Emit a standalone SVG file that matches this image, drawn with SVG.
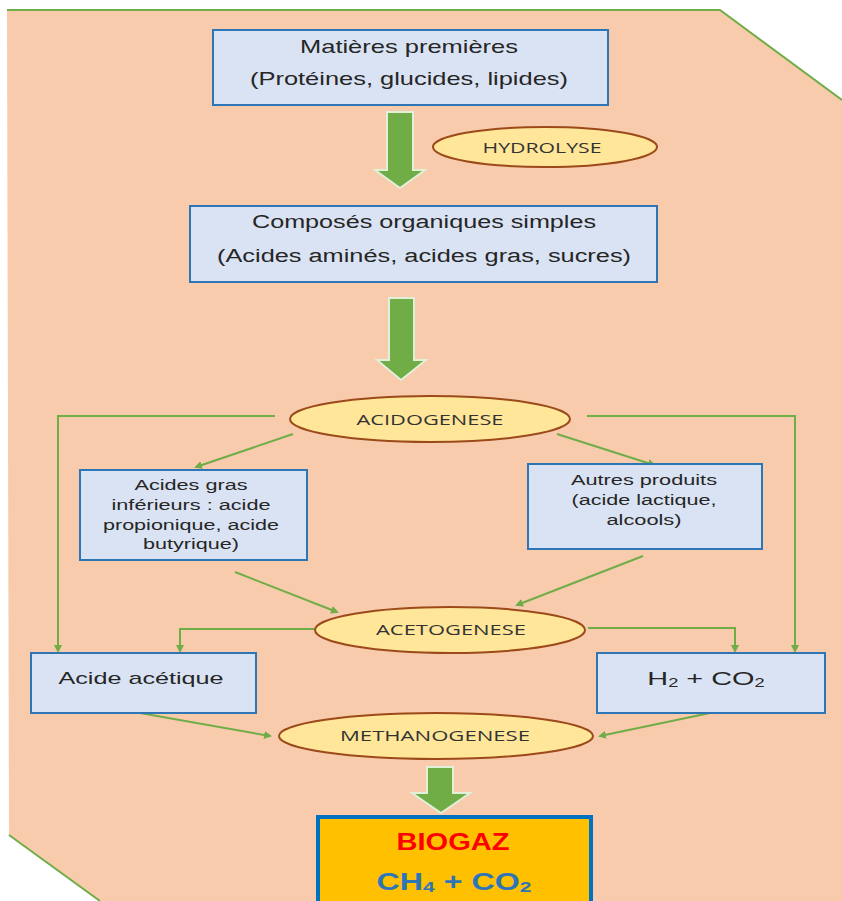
<svg xmlns="http://www.w3.org/2000/svg" width="842" height="901" viewBox="0 0 842 901">
<defs>
<style>
.box{fill:#DAE3F3;stroke:#2E75B6;stroke-width:2}
.ell{fill:#FFE699;stroke:#9C4A1A;stroke-width:2}
.t{font-family:"Liberation Sans",Arial,sans-serif;fill:#262626;text-anchor:middle}
.et{font-family:"Open Sans","Liberation Sans",sans-serif;fill:#333333;text-anchor:middle;font-size:14px}
.ln{fill:none;stroke:#70AD47;stroke-width:2}
.big{fill:#70AD47;stroke:#E2EFD9;stroke-width:2}
</style>
<marker id="ah" markerWidth="8" markerHeight="8" refX="6" refY="4" orient="auto" markerUnits="userSpaceOnUse">
<path d="M0,0 L8,4 L0,8 Z" fill="#70AD47"/>
</marker>
</defs>
<polygon points="7,10 720,10 842,100 842,901 100,901 9,835" fill="#F8CBAD"/>
<polyline points="7,10 720,10 842,100" fill="none" stroke="#70AD47" stroke-width="2"/>
<line x1="9" y1="835" x2="100" y2="901" stroke="#70AD47" stroke-width="2"/>

<g id="connectors">
<path class="big" d="M387,112 L413,112 L413,170 L425,170 L400,188 L375,170 L387,170 Z"/>
<path class="big" d="M389,298 L414,298 L414,360 L426,360 L401,380 L377,360 L389,360 Z"/>
<path class="big" d="M427,767 L453,767 L453,793 L470,793 L441,813 L412,793 L427,793 Z"/>
<polyline class="ln" points="275,416 58,416 58,651" marker-end="url(#ah)"/>
<polyline class="ln" points="587,416 795,416 795,651" marker-end="url(#ah)"/>
<line class="ln" x1="293" y1="434" x2="196" y2="467" marker-end="url(#ah)"/>
<line class="ln" x1="557" y1="434" x2="654" y2="465" marker-end="url(#ah)"/>
<line class="ln" x1="235" y1="572" x2="337" y2="612" marker-end="url(#ah)"/>
<line class="ln" x1="643" y1="556" x2="517" y2="605" marker-end="url(#ah)"/>
<polyline class="ln" points="315,629 180,629 180,651" marker-end="url(#ah)"/>
<polyline class="ln" points="588,628 735,628 735,651" marker-end="url(#ah)"/>
<line class="ln" x1="140" y1="713" x2="270" y2="736" marker-end="url(#ah)"/>
<line class="ln" x1="710" y1="713" x2="600" y2="736" marker-end="url(#ah)"/>
</g>

<g id="n-matieres">
<rect class="box" x="213" y="30" width="395" height="75"/>
<text class="t" x="409" y="53" font-size="19" textLength="218" lengthAdjust="spacingAndGlyphs">Matières premières</text>
<text class="t" x="409" y="85" font-size="19" textLength="318" lengthAdjust="spacingAndGlyphs">(Protéines, glucides, lipides)</text>
</g>
<g id="n-hydrolyse">
<ellipse class="ell" cx="545" cy="147" rx="112" ry="20"/>
<text class="et" x="542" y="153" textLength="119" lengthAdjust="spacingAndGlyphs">HYDROLYSE</text>
</g>
<g id="n-composes">
<rect class="box" x="190" y="206" width="467" height="76"/>
<text class="t" x="424" y="228" font-size="18" textLength="344" lengthAdjust="spacingAndGlyphs">Composés organiques simples</text>
<text class="t" x="424" y="262" font-size="18" textLength="414" lengthAdjust="spacingAndGlyphs">(Acides aminés, acides gras, sucres)</text>
</g>
<g id="n-acidogenese">
<ellipse class="ell" cx="430" cy="419" rx="140" ry="23"/>
<text class="et" x="430" y="425" textLength="147" lengthAdjust="spacingAndGlyphs">ACIDOGENESE</text>
</g>
<g id="n-acidesgras">
<rect class="box" x="80" y="470" width="227" height="90"/>
<text class="t" x="191" y="490" font-size="14" textLength="113" lengthAdjust="spacingAndGlyphs">Acides gras</text>
<text class="t" x="191" y="510" font-size="14" textLength="159" lengthAdjust="spacingAndGlyphs">inférieurs : acide</text>
<text class="t" x="191" y="530" font-size="14" textLength="176" lengthAdjust="spacingAndGlyphs">propionique, acide</text>
<text class="t" x="191" y="549" font-size="14" textLength="96" lengthAdjust="spacingAndGlyphs">butyrique)</text>
</g>
<g id="n-autres">
<rect class="box" x="528" y="464" width="234" height="85"/>
<text class="t" x="644" y="485" font-size="14" textLength="146" lengthAdjust="spacingAndGlyphs">Autres produits</text>
<text class="t" x="644" y="505" font-size="14" textLength="145" lengthAdjust="spacingAndGlyphs">(acide lactique,</text>
<text class="t" x="644" y="525" font-size="14" textLength="75" lengthAdjust="spacingAndGlyphs">alcools)</text>
</g>
<g id="n-acetogenese">
<ellipse class="ell" cx="450" cy="630" rx="135" ry="23"/>
<text class="et" x="451" y="635" textLength="150" lengthAdjust="spacingAndGlyphs">ACETOGENESE</text>
</g>
<g id="n-acetique">
<rect class="box" x="31" y="653" width="225" height="60"/>
<text class="t" x="141" y="684" font-size="17" textLength="165" lengthAdjust="spacingAndGlyphs">Acide acétique</text>
</g>
<g id="n-h2co2">
<rect class="box" x="597" y="653" width="228" height="60"/>
<g transform="translate(706,685) scale(1.52,1)">
<text class="t" x="0" y="0" font-size="19">H<tspan font-size="12" dy="2">2</tspan><tspan dy="-2"> + CO</tspan><tspan font-size="12" dy="2">2</tspan></text>
</g>
</g>
<g id="n-methanogenese">
<ellipse class="ell" cx="436" cy="736" rx="157" ry="23"/>
<text class="et" x="435" y="741" textLength="190" lengthAdjust="spacingAndGlyphs">METHANOGENESE</text>
</g>
<g id="n-biogaz">
<rect x="318" y="817" width="273" height="90" fill="#FFC000" stroke="#0070C0" stroke-width="4"/>
<text x="453" y="850" font-family="'Liberation Sans',Arial,sans-serif" font-weight="bold" font-size="23" fill="#FF0000" text-anchor="middle" textLength="113" lengthAdjust="spacingAndGlyphs">BIOGAZ</text>
<g transform="translate(454,890) scale(1.4,1)">
<text x="0" y="0" font-family="'Liberation Sans',Arial,sans-serif" font-weight="bold" font-size="23" fill="#2E75B6" text-anchor="middle">CH<tspan font-size="15" dy="2">4</tspan><tspan dy="-2"> + CO</tspan><tspan font-size="15" dy="2">2</tspan></text>
</g>
</g>
</svg>
